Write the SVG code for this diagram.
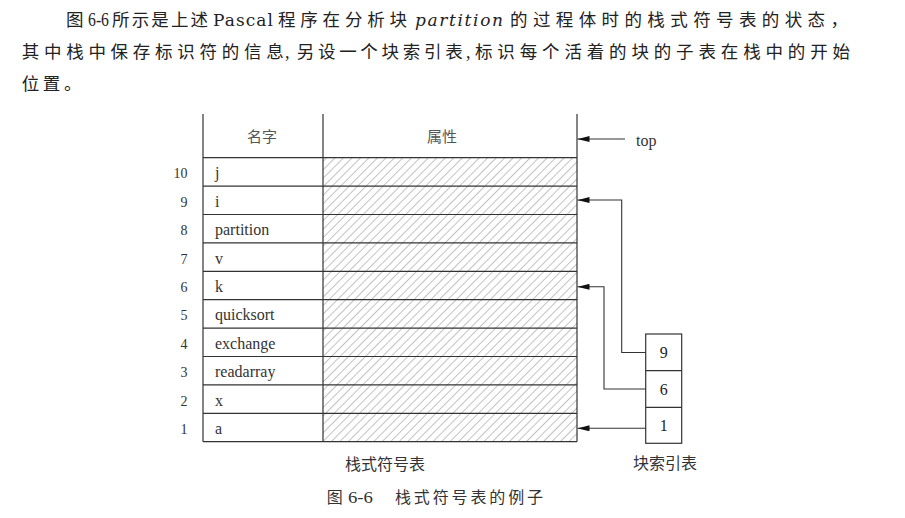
<svg xmlns="http://www.w3.org/2000/svg" width="905" height="518" viewBox="0 0 905 518">
<defs>
<pattern id="hatch" patternUnits="userSpaceOnUse" width="6" height="6" patternTransform="rotate(45)">
<line x1="0" y1="0" x2="0" y2="6" stroke="#777" stroke-width="0.9"/>
</pattern>
<marker id="ah" markerUnits="userSpaceOnUse" markerWidth="12" markerHeight="6" refX="12" refY="3" orient="auto">
<path d="M0,0 L12,3 L0,6 z" fill="#111"/>
</marker>
</defs>
<style>
.cj{font-family:"Noto Sans CJK SC",sans-serif;font-size:17.5px;fill:#222}
.lt{font-family:"DejaVu Serif","Liberation Serif",serif;font-size:17px;fill:#222}
.dg{font-family:"Liberation Serif",serif;font-size:18px;fill:#222}
.num{font-family:"Liberation Serif",serif;font-size:14px;fill:#333;text-anchor:end}
.name{font-family:"Liberation Serif",serif;font-size:16px;fill:#333}
.hdr{font-family:"Noto Sans CJK SC",sans-serif;font-size:15px;fill:#555;text-anchor:middle}
.lbl{font-family:"Noto Sans CJK SC",sans-serif;font-size:16px;fill:#333;text-anchor:middle}
.cap{font-family:"Noto Sans CJK SC",sans-serif;font-size:16px;fill:#333}
.capd{font-family:"Liberation Serif",serif;font-size:17px;fill:#333}
.ln{stroke:#333;stroke-width:1.2;fill:none}
.conn{stroke:#333;stroke-width:1.1;fill:none}
.idx{font-family:"Liberation Serif",serif;font-size:16px;fill:#222;text-anchor:middle}
</style>
<rect width="905" height="518" fill="#fff"/>

<g id="paragraph">
<text class="cj" x="66" y="26">图</text>
<text class="dg" x="88" y="26" textLength="21" lengthAdjust="spacingAndGlyphs">6-6</text>
<text class="cj" x="112" y="26" textLength="96" lengthAdjust="spacing">所示是上述</text>
<text class="lt" x="213" y="26" textLength="60" lengthAdjust="spacing">Pascal</text>
<text class="cj" x="278" y="26" textLength="129" lengthAdjust="spacing">程序在分析块</text>
<text class="lt" x="415" y="26" font-style="italic" textLength="88" lengthAdjust="spacing">partition</text>
<text class="cj" x="510" y="26" textLength="338" lengthAdjust="spacing">的过程体时的栈式符号表的状态，</text>

<text class="cj" x="21.7" y="58" textLength="262" lengthAdjust="spacing">其中栈中保存标识符的信息</text>
<text class="dg" x="285" y="58">,</text>
<text class="cj" x="296.7" y="58" textLength="166" lengthAdjust="spacing">另设一个块索引表</text>
<text class="dg" x="466" y="58">,</text>
<text class="cj" x="475" y="58" textLength="375" lengthAdjust="spacing">标识每个活着的块的子表在栈中的开始</text>

<text class="cj" x="21.7" y="90" letter-spacing="3.6">位置。</text>
</g>

<g id="stack-table">
<rect x="323" y="157.7" width="254" height="284" fill="url(#hatch)"/>
<line class="ln" x1="203" y1="114" x2="203" y2="441.7"/>
<line class="ln" x1="323" y1="114" x2="323" y2="441.7"/>
<line class="ln" x1="577" y1="114" x2="577" y2="441.7"/>
<g class="ln">
<line x1="203" y1="157.7" x2="577" y2="157.7"/>
<line x1="203" y1="186.1" x2="577" y2="186.1"/>
<line x1="203" y1="214.5" x2="577" y2="214.5"/>
<line x1="203" y1="242.9" x2="577" y2="242.9"/>
<line x1="203" y1="271.3" x2="577" y2="271.3"/>
<line x1="203" y1="299.7" x2="577" y2="299.7"/>
<line x1="203" y1="328.1" x2="577" y2="328.1"/>
<line x1="203" y1="356.5" x2="577" y2="356.5"/>
<line x1="203" y1="384.9" x2="577" y2="384.9"/>
<line x1="203" y1="413.3" x2="577" y2="413.3"/>
<line x1="203" y1="441.7" x2="577" y2="441.7"/>
</g>
<text class="hdr" x="262" y="142">名字</text>
<text class="hdr" x="442" y="142">属性</text>
<g id="row10"><text class="num" x="187.5" y="178.4">10</text><text class="name" x="215" y="178.4">j</text></g>
<g id="row9"><text class="num" x="187.5" y="206.8">9</text><text class="name" x="215" y="206.8">i</text></g>
<g id="row8"><text class="num" x="187.5" y="235.2">8</text><text class="name" x="215" y="235.2">partition</text></g>
<g id="row7"><text class="num" x="187.5" y="263.6">7</text><text class="name" x="215" y="263.6">v</text></g>
<g id="row6"><text class="num" x="187.5" y="292">6</text><text class="name" x="215" y="292">k</text></g>
<g id="row5"><text class="num" x="187.5" y="320.4">5</text><text class="name" x="215" y="320.4">quicksort</text></g>
<g id="row4"><text class="num" x="187.5" y="348.8">4</text><text class="name" x="215" y="348.8">exchange</text></g>
<g id="row3"><text class="num" x="187.5" y="377.2">3</text><text class="name" x="215" y="377.2">readarray</text></g>
<g id="row2"><text class="num" x="187.5" y="405.6">2</text><text class="name" x="215" y="405.6">x</text></g>
<g id="row1"><text class="num" x="187.5" y="434">1</text><text class="name" x="215" y="434">a</text></g>
<text class="lbl" x="385" y="470">栈式符号表</text>
</g>

<g id="top-label">
<text x="636" y="146" font-family="Liberation Serif, serif" font-size="16" fill="#333">top</text>
</g>

<g id="block-index">
<rect class="ln" x="645.7" y="334" width="36" height="109.3"/>
<line class="ln" x1="645.7" y1="370.7" x2="681.7" y2="370.7"/>
<line class="ln" x1="645.7" y1="407.3" x2="681.7" y2="407.3"/>
<text class="idx" x="663.7" y="358">9</text>
<text class="idx" x="663.7" y="394.5">6</text>
<text class="idx" x="663.7" y="431">1</text>
<text class="lbl" x="665" y="469">块索引表</text>
</g>

<g id="connectors">
<path class="conn" d="M625,139 H577.5" marker-end="url(#ah)"/>
<path class="conn" d="M645.7,352.5 H621.7 V200 H577.5" marker-end="url(#ah)"/>
<path class="conn" d="M645.7,389 H604 V286.8 H577.5" marker-end="url(#ah)"/>
<path class="conn" d="M645.7,428.3 H577.5" marker-end="url(#ah)"/>
</g>

<g id="caption">
<text class="cap" x="326.7" y="503">图</text>
<text class="capd" x="348" y="503" textLength="25" lengthAdjust="spacingAndGlyphs">6-6</text>
<text class="cap" x="395" y="503" textLength="148" lengthAdjust="spacing">栈式符号表的例子</text>
</g>
</svg>
